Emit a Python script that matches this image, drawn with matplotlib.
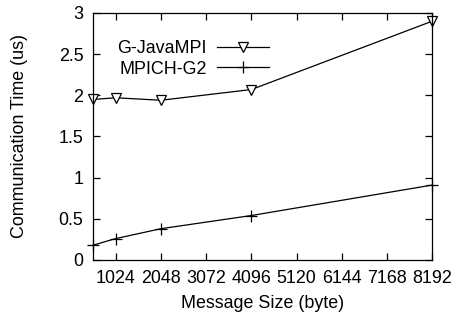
import matplotlib
matplotlib.use('Agg')
import matplotlib.pyplot as plt

# данные с картинки
sizes = [512, 1024, 2048, 4096, 8192]
gjava = [1.95, 1.97, 1.94, 2.07, 2.90]
mpich = [0.18, 0.26, 0.38, 0.54, 0.91]
xticks = [1024, 2048, 3072, 4096, 5120, 6144, 7168, 8192]
yticks = [0, 0.5, 1, 1.5, 2, 2.5, 3]

plt.rcParams['font.family'] = ['Liberation Sans', 'DejaVu Sans']
plt.rcParams['font.size'] = 12.9

fig = plt.figure(figsize=(4.54, 3.2), dpi=100)
ax = fig.add_axes([0.205, 0.1875, 0.747, 0.772])

ax.plot(sizes, gjava, color='black', lw=0.9, marker='v', markersize=7,
        markerfacecolor='white', markeredgewidth=0.9, label='G-JavaMPI', clip_on=False)
ax.plot(sizes, mpich, color='black', lw=0.9, marker='+', markersize=8,
        markeredgewidth=0.9, label='MPICH-G2', clip_on=False)

ax.set_xlim(512, 8192)
ax.set_ylim(0, 3)
ax.set_xticks(xticks)
ax.set_yticks(yticks)
ax.set_yticklabels(['0', '0.5', '1', '1.5', '2', '2.5', '3'])
ax.tick_params(direction='in', top=True, right=True, length=5, width=0.9, pad=7)
for s in ax.spines.values():
    s.set_linewidth(0.9)

ax.set_xlabel('Message Size (byte)', labelpad=6)
ax.set_ylabel('Communication Time (us)', labelpad=22)

ax.legend(loc='upper right', bbox_to_anchor=(0.52, 0.89), frameon=False,
          markerfirst=False, handlelength=2.9, handletextpad=0.6,
          labelspacing=0.2, borderpad=0, borderaxespad=0)

fig.savefig('out.png', dpi=100)
